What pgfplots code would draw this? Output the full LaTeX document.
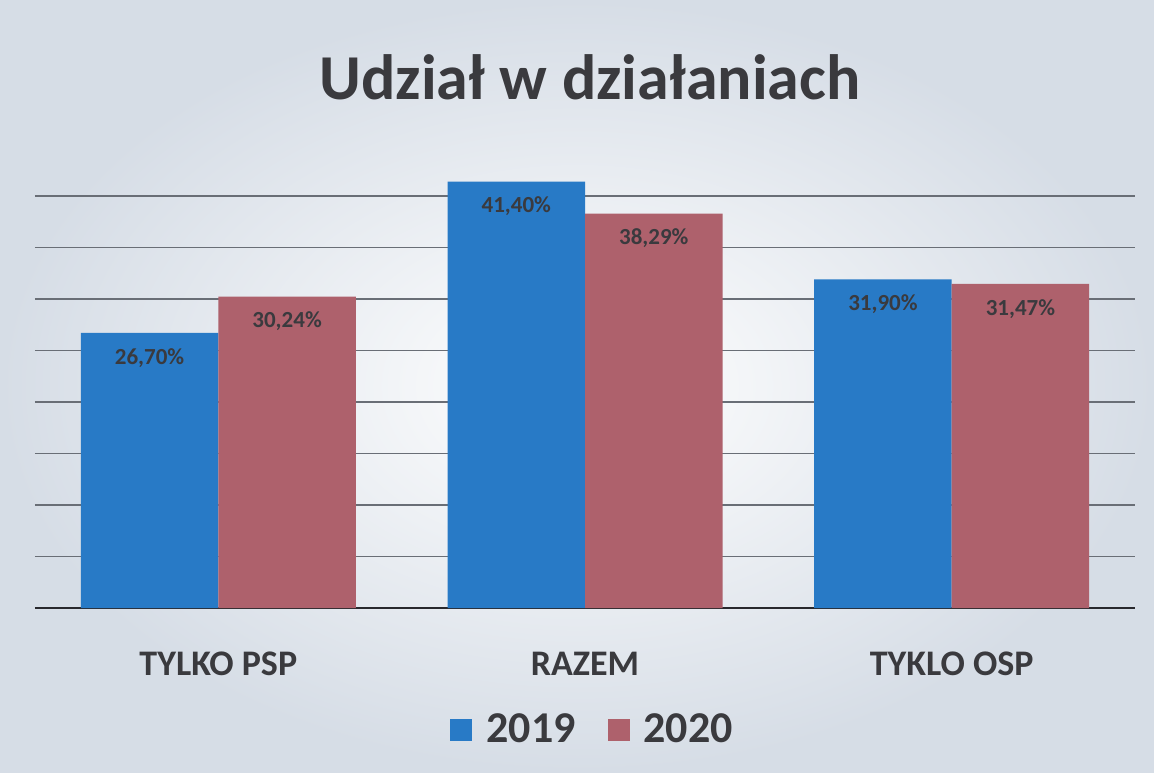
\documentclass[border=0pt]{standalone}
\usepackage{fontspec}
\setmainfont{Carlito}
\usepackage{pgfplots}
\pgfplotsset{compat=1.18}
\definecolor{bar19}{RGB}{40,122,198}
\definecolor{bar20}{RGB}{174,97,108}
\definecolor{txt}{RGB}{58,58,62}
\definecolor{bgout}{RGB}{214,221,230}
\definecolor{gridc}{RGB}{105,110,118}

\begin{document}
\begin{tikzpicture}[x=1pt,y=1pt]
% page background (scanned paper look)
\shade[inner color=white, outer color=bgout] (0,0) rectangle (577,386);
\node[anchor=base, font=\bfseries\fontsize{32}{38}\selectfont, text=txt] at (295,336) {Udział w działaniach};
\begin{axis}[
    at={(17.5pt,82pt)}, anchor=south west,
    scale only axis, width=550pt, height=231.75pt,
    ybar=0pt, bar width=0.375,
    xmin=-0.5, xmax=2.5, ymin=0, ymax=45,
    xtick={0,1,2},
    xticklabels={TYLKO PSP, RAZEM, TYKLO OSP},
    ytick={5,10,...,40}, yticklabels={},
    ymajorgrids, grid style={gridc, line width=0.7pt},
    axis x line*=bottom, axis y line*=left,
    y axis line style={draw=none},
    x axis line style={-, line width=1.4pt, color={rgb,255:red,40;green,40;blue,45}},
    major tick length=0pt, tick style={draw=none},
    xticklabel style={anchor=base, yshift=-33.5pt,
        font=\bfseries\fontsize{18}{22}\selectfont, text=txt},
    /pgf/number format/assume math mode=true,
    nodes near coords={\pgfmathprintnumber[fixed,fixed zerofill,precision=2,use comma]{\pgfplotspointmeta}\%},
    every node near coord/.append style={anchor=center, yshift=-12.5pt,
        font=\bfseries\fontsize{11.5}{13}\selectfont, text=txt},
    legend columns=2,
    legend style={at={(0.506,-0.263)}, anchor=center, draw=none, fill=none,
        font=\bfseries\fontsize{22}{26}\selectfont, text=txt,
        nodes={inner sep=0pt},
        /tikz/every odd column/.append style={column sep=7pt},
        /tikz/every even column/.append style={column sep=16pt}},
    legend image code/.code={\fill[#1] (0pt,-5.5pt) rectangle (11pt,5.5pt);},
]
\addplot[fill=bar19, draw=none] coordinates {(0,26.70) (1,41.40) (2,31.90)};
\addplot[fill=bar20, draw=none] coordinates {(0,30.24) (1,38.29) (2,31.47)};
\legend{2019,2020}
\end{axis}
\end{tikzpicture}
\end{document}
